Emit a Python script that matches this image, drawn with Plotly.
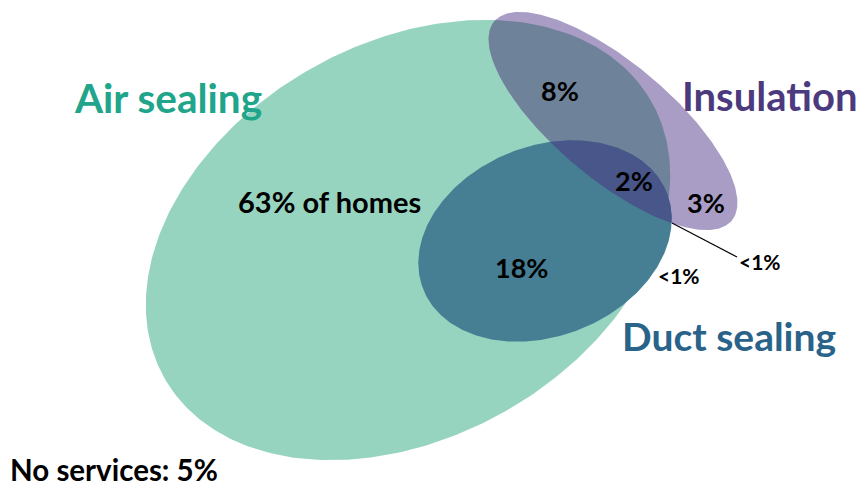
import numpy as np
import plotly.graph_objects as go

# ---- data ----
set_names = ["Air sealing", "Insulation", "Duct sealing"]
region_names = ["Air sealing only", "Air sealing + Insulation", "All three",
                "Insulation only", "Air sealing + Duct sealing", "Duct sealing only",
                "Insulation + Duct sealing"]
region_values = ["63% of homes", "8%", "2%", "3%", "18%", "<1%", "<1%"]
no_service_label = "No services"
no_service_value = "5%"

# ---- geometry (pixel space, y downward) ----
W, H = 861, 487
ell_air = dict(cx=408, cy=240, a=280, b=197, ang=29.6)
ell_ins = dict(cx=613, cy=121, a=155, b=58, ang=-40.0)
ell_duct = dict(cx=545, cy=241, a=131, b=95, ang=21.7)


def ellipse(e, n=360):
    t = np.linspace(0, 2 * np.pi, n, endpoint=False)
    th = np.radians(e["ang"])
    u = e["a"] * np.cos(t)
    v = e["b"] * np.sin(t)
    x = e["cx"] + u * np.cos(th) - v * np.sin(th)
    y = e["cy"] - (u * np.sin(th) + v * np.cos(th))
    pts = list(zip(x, y))
    area = sum(pts[i][0] * pts[(i + 1) % n][1] - pts[(i + 1) % n][0] * pts[i][1] for i in range(n))
    if area < 0:
        pts = pts[::-1]
    return pts


def clip(subject, clipper):
    def inside(p, a, b):
        return (b[0] - a[0]) * (p[1] - a[1]) - (b[1] - a[1]) * (p[0] - a[0]) >= 0

    def inter(p1, p2, a, b):
        x1, y1 = p1; x2, y2 = p2; x3, y3 = a; x4, y4 = b
        den = (x1 - x2) * (y3 - y4) - (y1 - y2) * (x3 - x4)
        if den == 0:
            return p2
        t = ((x1 - x3) * (y3 - y4) - (y1 - y3) * (x3 - x4)) / den
        return (x1 + t * (x2 - x1), y1 + t * (y2 - y1))

    out = subject
    for i in range(len(clipper)):
        a, b = clipper[i], clipper[(i + 1) % len(clipper)]
        inp = out
        out = []
        if not inp:
            break
        s = inp[-1]
        for p in inp:
            if inside(p, a, b):
                if not inside(s, a, b):
                    out.append(inter(s, p, a, b))
                out.append(p)
            elif inside(s, a, b):
                out.append(inter(s, p, a, b))
            s = p
    return out


P_air = ellipse(ell_air)
P_ins = ellipse(ell_ins)
P_duct = ellipse(ell_duct)
P_air_ins = clip(P_ins, P_air)
P_duct_ins = clip(P_duct, P_ins)

layers = [
    (P_air, "#97d4c0"),
    (P_ins, "#a99dc6"),
    (P_air_ins, "#6e8299"),
    (P_duct, "#467e94"),
    (P_duct_ins, "#48568a"),
]

fig = go.Figure()
for poly, col in layers:
    xs = [p[0] for p in poly] + [poly[0][0]]
    ys = [p[1] for p in poly] + [poly[0][1]]
    fig.add_trace(go.Scatter(x=xs, y=ys, mode="lines", fill="toself", fillcolor=col,
                             line=dict(width=0, color=col), hoverinfo="skip", showlegend=False))

FONT = "Lato"
# leader line for the insulation+duct "<1%"
fig.add_trace(go.Scatter(x=[672, 737], y=[223, 257], mode="lines",
                         line=dict(color="black", width=1.2), hoverinfo="skip", showlegend=False))

ann = []
set_pos = [(168, 97, "#20a58b", 40.5), (770, 96, "#4b3a7e", 40), (729, 336, "#29638a", 39)]
for name, (x, y, c, s) in zip(set_names, set_pos):
    ann.append(dict(x=x, y=y, text="<b>%s</b>" % name, font=dict(size=s, color=c, family=FONT)))

val_pos = [(329, 201, 29), (560, 90, 27), (634, 180, 27), (706, 202, 27),
           (521, 267, 27), (679, 275, 21), (760, 261, 21)]
for v, (x, y, s) in zip(region_values, val_pos):
    ann.append(dict(x=x, y=y, text="<b>%s</b>" % v, font=dict(size=s, color="black", family=FONT)))

ann.append(dict(x=114, y=469, text="<b>%s: %s</b>" % (no_service_label, no_service_value),
                font=dict(size=29.5, color="black", family=FONT)))

for a in ann:
    a.update(xref="x", yref="y", showarrow=False, xanchor="center", yanchor="middle")

fig.update_layout(
    width=W, height=H, autosize=False,
    margin=dict(l=0, r=0, t=0, b=0),
    paper_bgcolor="white", plot_bgcolor="white",
    xaxis=dict(range=[0, W], visible=False, fixedrange=True),
    yaxis=dict(range=[H, 0], visible=False, fixedrange=True),
    annotations=ann,
    showlegend=False,
)
fig.write_html("out.html")
